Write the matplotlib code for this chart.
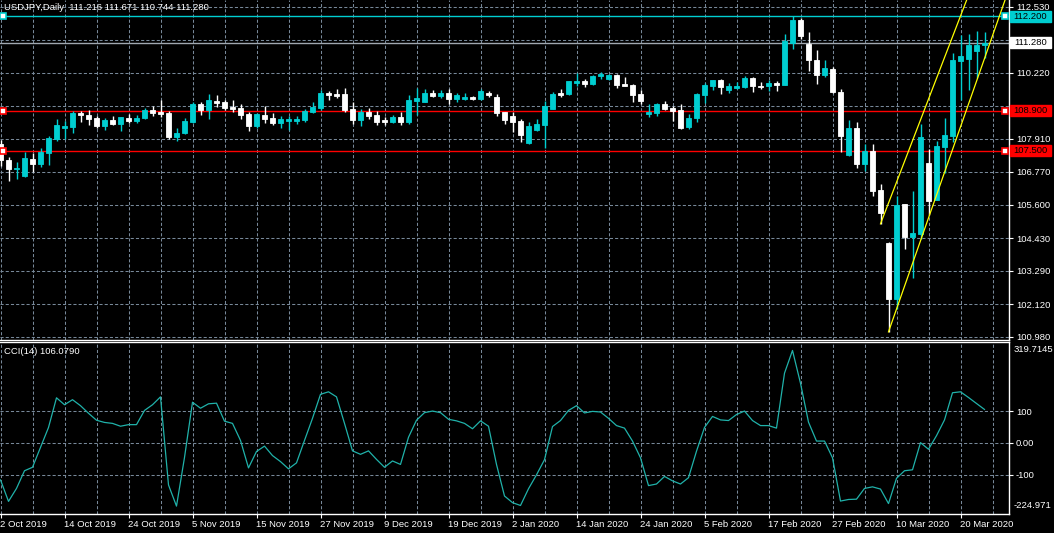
import matplotlib
matplotlib.use('Agg')
import matplotlib.pyplot as plt
from matplotlib.patches import Rectangle
import matplotlib.transforms as mtransforms

# ---------------- data ----------------
opens = [107.74,107.18,106.86,106.62,107.21,107.04,107.42,107.91,108.30,108.33,
         108.82,108.75,108.65,108.37,108.58,108.44,108.65,108.54,108.65,108.93,
         108.86,108.82,107.98,108.12,108.51,109.14,108.93,109.24,109.21,109.03,
         109.00,108.79,108.37,108.75,108.65,108.47,108.54,108.54,108.58,108.86,
         109.00,109.52,109.49,109.49,108.96,108.58,108.86,108.75,108.58,108.51,
         108.68,108.51,109.24,109.21,109.52,109.42,109.52,109.31,109.31,109.38,
         109.31,109.52,109.38,108.86,108.72,108.54,107.77,108.23,108.40,108.96,
         109.52,109.49,109.87,109.94,109.84,110.12,110.01,110.15,109.84,109.80,
         109.49,108.79,108.82,109.14,109.00,108.93,108.33,108.65,109.45,109.77,
         109.98,109.63,109.70,109.73,110.05,109.77,109.77,109.87,109.80,111.27,
         112.08,111.24,110.68,110.15,110.36,109.56,107.35,108.30,107.04,107.49,
         106.13,104.27,102.31,105.64,104.48,104.59,107.07,105.78,107.63,108.02,
         110.64,110.71,110.99,111.216]
highs = [107.88,107.28,107.11,107.46,107.42,107.60,108.02,108.61,108.54,108.89,
         108.89,108.93,108.72,108.65,108.72,108.68,108.79,108.75,109.00,109.07,
         109.28,108.89,108.30,108.65,109.21,109.21,109.49,109.45,109.28,109.28,
         109.14,108.86,108.82,109.07,108.82,108.72,108.72,108.72,108.96,109.21,
         109.63,109.59,109.66,109.70,109.21,108.96,109.00,108.89,108.68,108.75,
         108.86,109.45,109.70,109.66,109.63,109.63,109.66,109.52,109.52,109.42,
         109.66,109.59,109.49,108.86,108.86,108.61,108.51,108.61,109.24,109.56,
         109.66,109.94,110.22,110.01,110.15,110.26,110.19,110.19,110.08,109.84,
         109.63,109.14,109.17,109.24,109.07,109.14,108.79,109.52,109.87,109.98,
         110.01,109.87,109.91,110.12,110.08,109.91,109.98,109.94,111.59,112.22,
         112.15,111.66,111.03,110.68,110.43,109.66,108.58,108.51,107.74,107.74,
         106.34,104.31,105.92,105.64,106.09,108.44,107.56,107.84,108.65,110.92,
         111.55,111.59,111.69,111.671]
lows = [106.97,106.44,106.51,106.58,106.76,106.93,107.00,107.84,107.91,108.12,
        108.51,108.40,108.30,108.23,108.40,108.19,108.47,108.47,108.61,108.72,
        108.68,107.91,107.84,108.09,108.47,108.75,108.61,109.03,108.93,108.86,
        108.61,108.19,108.30,108.47,108.40,108.30,108.23,108.44,108.51,108.82,
        108.93,109.28,109.35,108.86,108.44,108.37,108.61,108.40,108.40,108.47,
        108.40,108.44,108.75,109.21,109.38,109.35,109.14,109.21,109.28,109.28,
        109.28,109.38,108.72,108.44,108.16,107.81,107.74,108.19,107.60,108.96,
        109.38,109.45,109.77,109.73,109.80,110.01,109.98,109.70,109.77,109.21,
        109.14,108.68,108.72,108.93,108.54,108.26,108.26,108.51,109.17,109.63,
        109.49,109.52,109.66,109.70,109.56,109.66,109.59,109.59,109.80,111.06,
        111.41,110.29,109.84,110.08,109.52,107.46,107.32,106.90,106.79,105.92,
        104.94,101.16,101.96,104.06,103.05,104.41,105.25,105.78,106.72,107.81,
        109.28,109.63,110.05,110.744]
closes = [107.18,106.86,106.90,107.25,107.04,107.46,107.95,108.40,108.37,108.82,
          108.75,108.61,108.37,108.58,108.44,108.68,108.54,108.65,108.93,108.82,
          108.79,107.98,108.12,108.54,109.14,108.93,109.28,109.17,109.00,108.96,
          108.75,108.37,108.79,108.61,108.47,108.61,108.61,108.61,108.89,109.03,
          109.52,109.45,109.42,108.93,108.58,108.86,108.72,108.51,108.51,108.68,
          108.51,109.28,109.35,109.52,109.42,109.52,109.31,109.45,109.38,109.31,
          109.59,109.45,108.82,108.58,108.51,108.05,108.37,108.44,109.07,109.49,
          109.45,109.94,109.94,109.84,110.12,110.19,110.15,109.80,109.77,109.45,
          109.24,108.86,109.14,108.96,108.89,108.30,108.65,109.49,109.80,109.98,
          109.73,109.77,109.77,110.05,109.77,109.73,109.87,109.80,111.34,112.08,
          111.52,110.68,110.15,110.40,109.56,108.02,108.30,107.04,107.49,106.09,
          105.32,102.31,105.60,104.48,104.62,107.98,105.74,107.67,108.05,110.68,
          110.82,111.20,111.20,111.280]
cci = [-117,-185,-144,-88,-77,-14,49,143,121,137,
       118,94,72,65,62,53,58,58,103,121,
       146,-133,-200,-46,129,110,124,126,69,62,
       8,-79,-27,-10,-40,-59,-82,-63,8,78,
       154,162,146,62,-25,-36,-25,-52,-77,-57,
       -68,18,72,96,101,96,75,70,62,45,
       70,53,-68,-168,-189,-198,-145,-101,-53,52,
       71,103,118,95,100,98,78,55,47,6,
       -47,-135,-130,-106,-120,-130,-110,-26,49,84,
       73,71,90,101,71,55,55,47,221,293,
       189,66,6,6,-47,-184,-179,-178,-144,-139,
       -146,-192,-112,-88,-85,1,-20,23,73,159,
       162,144,125,106.079]

date_labels = ['2 Oct 2019', '14 Oct 2019', '24 Oct 2019', '5 Nov 2019', '15 Nov 2019',
               '27 Nov 2019', '9 Dec 2019', '19 Dec 2019', '2 Jan 2020', '14 Jan 2020',
               '24 Jan 2020', '5 Feb 2020', '17 Feb 2020', '27 Feb 2020', '10 Mar 2020',
               '20 Mar 2020']
price_ticks = [112.530, 111.375, 110.220, 109.065, 107.910, 106.770, 105.600,
               104.430, 103.290, 102.120, 100.980]
price_tick_labels = ['112.530', '', '110.220', '', '107.910', '106.770', '105.600',
                     '104.430', '103.290', '102.120', '100.980']
cci_levels = [100, 0, -100]
cci_level_labels = ['100', '0.00', '-100']
cci_max, cci_min = 319.7145, -224.971
level_lines = {'blue': 112.200, 'bid': 111.280, 'red1': 108.900, 'red2': 107.500}
trend1 = [(110, 104.94), (120.77, 112.775)]
trend2 = [(111, 101.16), (125.5, 112.72)]
title_text = 'USDJPY,Daily  111.216 111.671 110.744 111.280'
cci_text = 'CCI(14) 106.0790'

# ---------------- style ----------------
FONT = 'Liberation Sans'
FS = 6.8
BULL = '#00CED1'
BEAR = '#FFFFFF'
GRID = '#778899'
CCI_C = '#20B2AA'
RED = '#FF0000'
W, H = 1054, 533
PX = 8.0  # pixels per bar

fig = plt.figure(figsize=(W / 100, H / 100), dpi=100, facecolor='black')


def axrect(x0, y0, x1, y1):
    return [x0 / W, 1 - y1 / H, (x1 - x0) / W, (y1 - y0) / H]


ax = fig.add_axes(axrect(0, 0, 1009, 340))
ax2 = fig.add_axes(axrect(0, 342, 1009, 514))
n = len(closes)
xl = (-0.5 / PX, (1009 - 0.5) / PX)
for a in (ax, ax2):
    a.set_facecolor('black')
    a.set_xlim(*xl)
    for s in a.spines.values():
        s.set_color('white')
        s.set_linewidth(1)
    a.spines['left'].set_visible(False)

ax.spines['top'].set_visible(False)
ax.set_ylim(112.775 - 0.035 * 340, 112.775)
ax2.set_ylim(cci_min, cci_max)

# grids
gls = (0, (3, 2))
for i in range(0, int(xl[1]) + 1, 4):
    ax.axvline(i, color=GRID, lw=0.75, ls=gls, zorder=0.5)
    ax2.axvline(i, color=GRID, lw=0.75, ls=gls, zorder=0.5)
for p in price_ticks:
    ax.axhline(p, color=GRID, lw=0.75, ls=gls, zorder=0.5)
for c in cci_levels:
    ax2.axhline(c, color=GRID, lw=0.75, ls=gls, zorder=0.5)

# candles
bw = 5.0 / PX
for i in range(n):
    o, h, l, c = opens[i], highs[i], lows[i], closes[i]
    col = BULL if c >= o else BEAR
    ax.vlines(i, l, h, color=col, lw=1, zorder=2)
    lo, hi = min(o, c), max(o, c)
    ax.add_patch(Rectangle((i - bw / 2, lo), bw, max(hi - lo, 0.0001),
                           facecolor=col, edgecolor=col, lw=0.6, zorder=3))

# horizontal lines
ax.axhline(level_lines['blue'], color=BULL, lw=1, zorder=1.5)
ax.axhline(level_lines['bid'], color='#A0A8B0', lw=1, zorder=1.5)
ax.axhline(level_lines['red1'], color=RED, lw=1, zorder=1.5)
ax.axhline(level_lines['red2'], color=RED, lw=1, zorder=1.5)

# trend lines (rays starting at the first anchor, extending upward)
for (x0, y0), (x1, y1) in (trend1, trend2):
    k = 3.0
    ax.plot([x0, x0 + k * (x1 - x0)], [y0, y0 + k * (y1 - y0)],
            color='#FFFF00', lw=0.9, zorder=4)

# end markers
for key, col in (('blue', BULL), ('red1', RED), ('red2', RED)):
    yv = level_lines[key]
    for xv in (xl[0] + 2.5 / PX, xl[0] + 1004.5 / PX):
        ax.plot([xv], [yv], marker='s', ms=4.2, mfc='white', mec=col, mew=1.2,
                zorder=6, clip_on=False)

# price axis ticks
ax.yaxis.tick_right()
ax.set_yticks(price_ticks)
ax.set_yticklabels(price_tick_labels)
ax.tick_params(axis='y', colors='white', length=3, width=0.8, pad=2,
               labelsize=FS)
for t in ax.get_yticklabels():
    t.set_fontfamily(FONT)
ax.set_xticks([])

# label boxes
trans = mtransforms.blended_transform_factory(ax.transAxes, ax.transData)
for key, fc, tc in (('blue', BULL, 'black'), ('bid', 'white', 'black'),
                    ('red1', RED, 'black'), ('red2', RED, 'black')):
    yv = level_lines[key]
    ax.add_patch(Rectangle((1010 / 1009, yv - 0.2), 41 / 1009, 0.4, transform=trans,
                           facecolor=fc, edgecolor=fc, clip_on=False, zorder=7))
    ax.text(1030.5 / 1009, yv, '%.3f' % yv, transform=trans, ha='center',
            va='center', color=tc, fontsize=FS, family=FONT, zorder=8,
            clip_on=False)

ax.text(4 / 1009, 1 - 8 / 340, title_text, transform=ax.transAxes, color='white',
        fontsize=FS, family=FONT, va='center', ha='left', zorder=9)

# CCI panel
ax2.plot(range(n), cci, color=CCI_C, lw=0.9, zorder=3)
ax2.yaxis.tick_right()
ax2.set_yticks(cci_levels)
ax2.set_yticklabels(cci_level_labels)
ax2.tick_params(axis='y', colors='white', length=3, width=0.8, pad=2,
                labelsize=FS)
for t in ax2.get_yticklabels():
    t.set_fontfamily(FONT)
ax2.text(1.0 + 5 / 1009, 1 - 7 / 172, '%.4f' % cci_max, transform=ax2.transAxes,
         color='white', fontsize=FS, family=FONT, va='center', ha='left',
         clip_on=False)
ax2.text(1.0 + 5 / 1009, 9 / 172, '%.3f' % cci_min, transform=ax2.transAxes,
         color='white', fontsize=FS, family=FONT, va='center', ha='left',
         clip_on=False)
ax2.text(4 / 1009, 1 - 10 / 172, cci_text, transform=ax2.transAxes,
         color='white', fontsize=FS, family=FONT, va='center', ha='left')

ax2.set_xticks(list(range(0, 8 * len(date_labels), 8)))
ax2.set_xticklabels(date_labels)
ax2.tick_params(axis='x', colors='white', length=3, width=0.8, pad=1.5,
                labelsize=FS)
for t in ax2.get_xticklabels():
    t.set_ha('left')
    t.set_fontfamily(FONT)

fig.savefig('out.png', dpi=100, facecolor='black')
